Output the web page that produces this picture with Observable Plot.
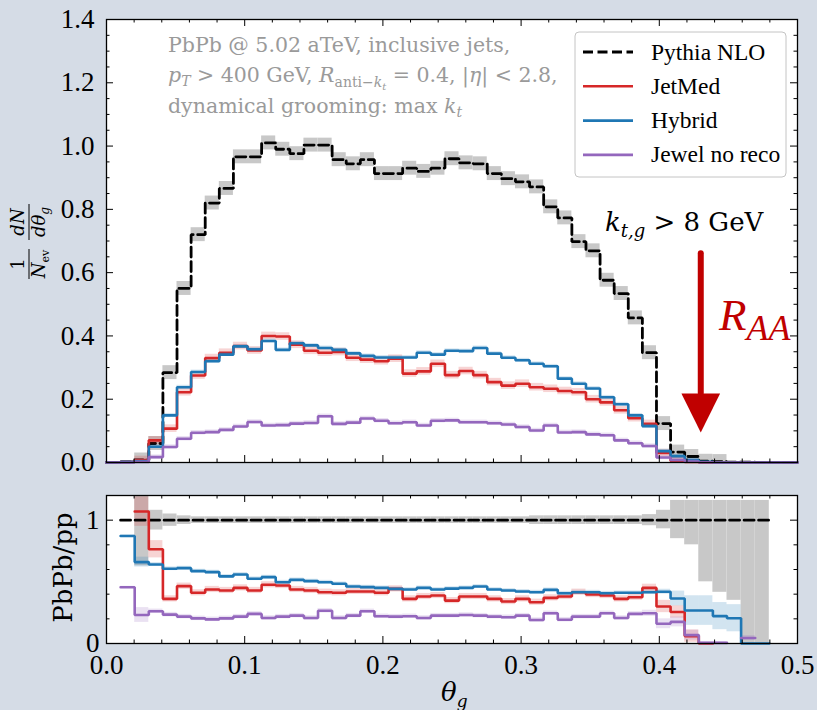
<!DOCTYPE html>
<html>
<head>
<meta charset="utf-8">
<script src="https://cdn.jsdelivr.net/npm/d3@7"></script>
<script src="https://cdn.jsdelivr.net/npm/@observablehq/plot@0.6"></script>
<style>
  html, body { margin: 0; padding: 0; background: #d5dce6; }
  #figure { position: relative; width: 817px; height: 710px; background: #d5dce6; overflow: hidden; }
  #figure > svg { position: absolute; left: 0; }
</style>
</head>
<body>
<div id="figure"></div>
<script>
// θ_g binning: 49 equal bins on [0, 0.5]
const nBins = 49;
const thetaMax = 0.5;
const edges = d3.range(nBins + 1).map(k => k * thetaMax / nBins);

// 1/N_ev dN/dθ_g per bin, k_t,g > 8 GeV
const pythia = [
  0, 0.002, 0.008, 0.06, 0.284, 0.55, 0.72, 0.82, 0.866, 0.966,
  0.966, 1.01, 0.99, 0.976, 1.003, 1.003, 0.957, 0.944, 0.957, 0.913,
  0.913, 0.93, 0.92, 0.93, 0.96, 0.947, 0.944, 0.913, 0.897, 0.887,
  0.871, 0.808, 0.773, 0.698, 0.669, 0.576, 0.534, 0.457, 0.347, 0.123,
  0.033, 0.019, 0.004, 0.003, 0.001, 0.001, 0, 0, 0
];
const jetmed = [
  0, 0.002, 0.008, 0.07, 0.107, 0.222, 0.275, 0.33, 0.347, 0.368,
  0.354, 0.40, 0.398, 0.372, 0.353, 0.347, 0.349, 0.331, 0.325, 0.32,
  0.328, 0.281, 0.288, 0.312, 0.276, 0.289, 0.276, 0.254, 0.243, 0.249,
  0.238, 0.233, 0.226, 0.222, 0.2, 0.19, 0.165, 0.14, 0.122, 0.03,
  0.005, 0.002, 0, 0, 0, 0, 0, 0, 0
];
const hybrid = [
  0, 0.002, 0.004, 0.05, 0.149, 0.238, 0.286, 0.32, 0.341, 0.367,
  0.358, 0.384, 0.356, 0.377, 0.37, 0.362, 0.356, 0.345, 0.337, 0.332,
  0.332, 0.332, 0.347, 0.341, 0.353, 0.352, 0.362, 0.344, 0.331, 0.323,
  0.312, 0.304, 0.265, 0.249, 0.234, 0.206, 0.184, 0.149, 0.115, 0.036,
  0.02, 0.008, 0.002, 0, 0, 0, 0, 0, 0
];
const jewel = [
  0, 0, 0.002, 0.017, 0.049, 0.075, 0.094, 0.096, 0.103, 0.114,
  0.128, 0.117, 0.118, 0.123, 0.125, 0.146, 0.122, 0.126, 0.139, 0.132,
  0.124, 0.127, 0.117, 0.132, 0.133, 0.127, 0.127, 0.124, 0.12, 0.112,
  0.101, 0.117, 0.095, 0.096, 0.089, 0.086, 0.07, 0.061, 0.052, 0.016,
  0.008, 0.003, 0.001, 0, 0, 0, 0, 0, 0
];
// statistical half-widths of the distributions
const pythiaErr = 0.022, jetmedErr = 0.012, hybridErr = 0.006, jewelErr = 0.007;

// PbPb/pp ratios per bin (null = no entry)
const pythiaRatio = [
  null, 1, 1, 1, 1, 1, 1, 1, 1, 1,
  1, 1, 1, 1, 1, 1, 1, 1, 1, 1,
  1, 1, 1, 1, 1, 1, 1, 1, 1, 1,
  1, 1, 1, 1, 1, 1, 1, 1, 1, 1,
  1, 1, 1, 1, 1, 1, 1, null, null
];
const pythiaRatioLo = [
  null, null, 0.63, 0.92, 0.95, 0.965, 0.973, 0.973, 0.973, 0.973,
  0.973, 0.973, 0.973, 0.973, 0.973, 0.973, 0.973, 0.973, 0.973, 0.973,
  0.973, 0.973, 0.973, 0.973, 0.973, 0.973, 0.973, 0.973, 0.973, 0.973,
  0.965, 0.965, 0.965, 0.965, 0.965, 0.965, 0.965, 0.965, 0.955, 0.93,
  0.85, 0.80, 0.50, 0.415, 0.35, 0, 0, null, null
];
const pythiaRatioHi = [
  null, null, 1.4, 1.08, 1.05, 1.035, 1.027, 1.027, 1.027, 1.027,
  1.027, 1.027, 1.027, 1.027, 1.027, 1.027, 1.027, 1.027, 1.027, 1.027,
  1.027, 1.027, 1.027, 1.027, 1.027, 1.027, 1.027, 1.027, 1.027, 1.027,
  1.035, 1.035, 1.035, 1.035, 1.035, 1.035, 1.035, 1.035, 1.045, 1.08,
  1.16, 1.16, 1.16, 1.16, 1.16, 1.16, 1.16, null, null
];
const jetmedRatio = [
  null, null, 1.07, 0.764, 0.362, 0.465, 0.411, 0.438, 0.43, 0.451,
  0.43, 0.476, 0.47, 0.438, 0.43, 0.416, 0.411, 0.422, 0.422, 0.411,
  0.443, 0.362, 0.381, 0.389, 0.348, 0.381, 0.381, 0.362, 0.34, 0.362,
  0.335, 0.37, 0.381, 0.416, 0.397, 0.389, 0.362, 0.375, 0.451, 0.30,
  0.256, 0.06, 0, null, null, null, null, null, null
];
const jetmedRatioErr = [
  null, null, 0.12, 0.07, 0.025, 0.025, 0.025, 0.025, 0.025, 0.025,
  0.025, 0.025, 0.025, 0.025, 0.025, 0.025, 0.025, 0.025, 0.025, 0.025,
  0.025, 0.025, 0.025, 0.025, 0.025, 0.025, 0.025, 0.025, 0.025, 0.025,
  0.025, 0.025, 0.025, 0.025, 0.025, 0.025, 0.025, 0.025, 0.03, 0.05,
  0.05, 0.05, 0, null, null, null, null, null, null
];
const hybridRatio = [
  null, 0.872, 0.66, 0.641, 0.606, 0.611, 0.587, 0.579, 0.544, 0.56,
  0.525, 0.538, 0.497, 0.516, 0.506, 0.497, 0.484, 0.462, 0.457, 0.451,
  0.443, 0.438, 0.451, 0.438, 0.445, 0.451, 0.462, 0.438, 0.43, 0.422,
  0.416, 0.435, 0.408, 0.416, 0.416, 0.408, 0.411, 0.411, 0.416, 0.42,
  0.365, 0.267, 0.267, 0.222, 0.205, 0, 0, null, null
];
const hybridRatioErr = [
  null, 0.008, 0.04, 0.015, 0.015, 0.015, 0.015, 0.015, 0.015, 0.015,
  0.015, 0.015, 0.015, 0.015, 0.015, 0.015, 0.015, 0.015, 0.015, 0.015,
  0.015, 0.015, 0.015, 0.015, 0.015, 0.015, 0.015, 0.015, 0.015, 0.015,
  0.015, 0.015, 0.015, 0.015, 0.015, 0.015, 0.015, 0.015, 0.018, 0.02,
  0.06, 0.12, 0.12, 0.11, 0.11, 0, 0, null, null
];
const jewelRatio = [
  null, 0.456, 0.231, 0.261, 0.234, 0.218, 0.204, 0.196, 0.204, 0.218,
  0.24, 0.207, 0.218, 0.226, 0.207, 0.266, 0.207, 0.226, 0.261, 0.221,
  0.218, 0.221, 0.207, 0.226, 0.226, 0.231, 0.226, 0.218, 0.213, 0.226,
  0.19, 0.245, 0.193, 0.218, 0.218, 0.245, 0.207, 0.24, 0.245, 0.16,
  0.175, 0.068, 0.005, 0.005, null, 0.045, null, null, null
];
const jewelRatioErr = [
  null, 0.008, 0.06, 0.018, 0.018, 0.018, 0.018, 0.018, 0.018, 0.018,
  0.018, 0.018, 0.018, 0.018, 0.018, 0.018, 0.018, 0.018, 0.018, 0.018,
  0.018, 0.018, 0.018, 0.018, 0.018, 0.018, 0.018, 0.018, 0.018, 0.018,
  0.018, 0.018, 0.018, 0.018, 0.018, 0.018, 0.018, 0.018, 0.025, 0.04,
  0.04, 0.04, 0.01, 0.01, null, 0.02, null, null, null
];

// axis ticks
const xMajor = [0, 0.1, 0.2, 0.3, 0.4, 0.5];
const xMinor = d3.range(1, 25).filter(i => i % 5 !== 0).map(i => i * 0.02);
const yMajorTop = [0, 0.2, 0.4, 0.6, 0.8, 1.0, 1.2, 1.4];
const yMinorTop = d3.range(1, 28).filter(i => i % 4 !== 0).map(i => i * 0.05);
const yMajorBottom = [0, 1];
const yMinorBottom = [0.2, 0.4, 0.6, 0.8];

const legendNames = ["Pythia NLO", "JetMed", "Hybrid", "Jewel no reco"];
const colors = ["#000000", "#d62728", "#1f77b4", "#9467bd"];
const raaRed = "#c00000";
const arrowSpec = {theta: 0.43, top: 0.66, headBase: 0.218, tip: 0.095, halfWidth: 0.014};

const SERIF = "'DejaVu Serif', 'Liberation Serif', serif";
const NUM = "'Liberation Serif', 'Times New Roman', serif";

// ---- helpers -------------------------------------------------------------
function stepPoints(values) {
  const pts = [];
  let run = 0, open = false;
  values.forEach((v, i) => {
    if (v == null) {
      if (open) { pts.push({x: edges[i], y: values[i - 1], run}); open = false; run++; }
      return;
    }
    pts.push({x: edges[i], y: v, run});
    open = true;
  });
  if (open) pts.push({x: edges[values.length], y: values[values.length - 1], run});
  return pts;
}
function bandRects(values, lo, hi) {
  return values.flatMap((v, i) => {
    const a = lo(i), b = hi(i);
    if (v == null || a == null || b == null) return [];
    return [{x1: edges[i], x2: edges[i + 1], y1: a, y2: b}];
  });
}
const stepLine = (values, stroke, extra = {}) =>
  Plot.line(stepPoints(values), {x: "x", y: "y", z: "run", curve: "step-after", stroke, strokeWidth: 2.6, strokeLinejoin: "miter", ...extra});
const bandMark = (rects, fill, fillOpacity) =>
  Plot.rect(rects, {x1: "x1", x2: "x2", y1: "y1", y2: "y2", fill, fillOpacity, clip: true});
const errAt = (err, i) => Array.isArray(err) ? err[i] : err;
const symBand = (values, err) => bandRects(values,
  i => (values[i] == null || errAt(err, i) == null) ? null : values[i] - errAt(err, i),
  i => (values[i] == null || errAt(err, i) == null) ? null : values[i] + errAt(err, i));
const positiveBand = (values, err) => bandRects(values,
  i => values[i] > 0.002 ? values[i] - err : null,
  i => values[i] > 0.002 ? values[i] + err : null);

function tickRules(W, H, yMaj, yMin) {
  const M = 7, m = 3.5, s = {stroke: "black", strokeWidth: 1};
  return [
    Plot.ruleY(yMaj, {...s, insetRight: W - M}), Plot.ruleY(yMaj, {...s, insetLeft: W - M}),
    Plot.ruleY(yMin, {...s, insetRight: W - m}), Plot.ruleY(yMin, {...s, insetLeft: W - m}),
    Plot.ruleX(xMajor, {...s, insetTop: H - M}), Plot.ruleX(xMajor, {...s, insetBottom: H - M}),
    Plot.ruleX(xMinor, {...s, insetTop: H - m}), Plot.ruleX(xMinor, {...s, insetBottom: H - m})
  ];
}

function richText(parent, x, y, parts, opts) {
  const t = parent.append("text").attr("x", x).attr("y", y)
    .style("font-family", opts.family).style("font-size", opts.size + "px")
    .attr("fill", opts.fill || "black").attr("text-anchor", opts.anchor || "start");
  let shift = 0;
  for (const p of parts) {
    const [str, o] = Array.isArray(p) ? p : [p, {}];
    const target = o.shift || 0;
    const ts = t.append("tspan").text(str).attr("dy", target - shift);
    if (o.italic) ts.style("font-style", "italic");
    if (o.size) ts.style("font-size", o.size + "px");
    shift = target;
  }
  return t;
}

const baseStyle = `background: transparent; overflow: visible; font-family: ${NUM}; font-size: 27px; color: black;`;
const axisFont = {fontFamily: NUM, fontSize: 27};
const fig = document.getElementById("figure");

// ---- distribution panel --------------------------------------------------
const topW = 817 - 106 - 20, topH = 480 - 19 - 18;
const a = arrowSpec;
const topPlot = Plot.plot({
  width: 817, height: 480,
  marginLeft: 106, marginRight: 20, marginTop: 19, marginBottom: 18,
  x: {domain: [0, thetaMax], axis: null},
  y: {domain: [0, 1.4]},
  style: baseStyle,
  marks: [
    Plot.frame({fill: "white", stroke: "none"}),
    bandMark(positiveBand(pythia, pythiaErr), "#c8c8c8", 1),
    stepLine(pythia, colors[0], {strokeDasharray: "10,4.5", strokeWidth: 2.8}),
    bandMark(positiveBand(jetmed, jetmedErr), colors[1], 0.2),
    stepLine(jetmed, colors[1]),
    bandMark(positiveBand(hybrid, hybridErr), colors[2], 0.2),
    stepLine(hybrid, colors[2]),
    bandMark(positiveBand(jewel, jewelErr), colors[3], 0.2),
    stepLine(jewel, colors[3]),
    Plot.ruleX([a], {x: "theta", y1: "top", y2: "headBase", stroke: raaRed, strokeWidth: 6, strokeLinecap: "round"}),
    Plot.line([[a.theta - a.halfWidth, a.headBase], [a.theta + a.halfWidth, a.headBase], [a.theta, a.tip], [a.theta - a.halfWidth, a.headBase]],
      {fill: raaRed, stroke: "none"}),
    Plot.axisY({ticks: yMajorTop, tickSize: 0, tickPadding: 12, tickFormat: d => d.toFixed(1), label: null, ...axisFont}),
    ...tickRules(topW, topH, yMajorTop, yMinorTop),
    Plot.frame({stroke: "black", strokeWidth: 1.3})
  ]
});
topPlot.style.top = "0px";
fig.appendChild(topPlot);

const ts = d3.select(topPlot);
// y label: 1/N_ev dN/dθ_g
const yl = ts.append("g").attr("transform", "translate(29,242) rotate(-90)");
richText(yl, -22, -5, ["1"], {family: SERIF, size: 18, anchor: "middle"});
yl.append("line").attr("x1", -37).attr("x2", -7).attr("y1", 0).attr("y2", 0).attr("stroke", "black").attr("stroke-width", 1);
richText(yl, -22, 16, [["N", {italic: true}], ["ev", {size: 11, shift: 4}]], {family: SERIF, size: 18, anchor: "middle"});
richText(yl, 20, -5, [["dN", {italic: true}]], {family: SERIF, size: 18, anchor: "middle"});
yl.append("line").attr("x1", 2).attr("x2", 38).attr("y1", 0).attr("y2", 0).attr("stroke", "black").attr("stroke-width", 1);
richText(yl, 20, 16, [["dθ", {italic: true}], ["g", {italic: true, size: 12, shift: 4}]], {family: SERIF, size: 18, anchor: "middle"});

// selection description
const grey = "#9a9a9a";
const df = {family: SERIF, size: 20.5, fill: grey};
richText(ts, 168, 52, ["PbPb @ 5.02 aTeV, inclusive jets,"], df);
richText(ts, 168, 82, [
  ["p", {italic: true}], ["T", {italic: true, size: 14, shift: 4}], [" > 400 GeV, ", {}],
  ["R", {italic: true}], ["anti−", {size: 14, shift: 5}], ["k", {italic: true, size: 14, shift: 5}],
  ["t", {italic: true, size: 10, shift: 8}], [" = 0.4, |", {}], ["η", {italic: true}], ["| < 2.8,", {}]
], df);
richText(ts, 168, 112.5, ["dynamical grooming: max ", ["k", {italic: true}], ["t", {italic: true, size: 14, shift: 4}]], df);

// grooming cut and R_AA annotation
richText(ts, 605, 231, [["k", {italic: true}], ["t,g", {italic: true, size: 18, shift: 6}], [" > 8 GeV", {}]],
  {family: SERIF, size: 26});
richText(ts, 719, 330, [["R", {italic: true}], ["AA", {italic: true, size: 36, shift: 10}]],
  {family: NUM, size: 45, fill: raaRed});

// legend
const lg = ts.append("g");
lg.append("rect").attr("x", 575).attr("y", 32).attr("width", 211).attr("height", 145).attr("rx", 4)
  .attr("fill", "white").attr("fill-opacity", 0.85).attr("stroke", "#c4c4c4").attr("stroke-width", 1);
legendNames.forEach((name, i) => {
  const cy = 52 + i * 34.3;
  lg.append("line").attr("x1", 583).attr("x2", 633).attr("y1", cy).attr("y2", cy)
    .attr("stroke", colors[i]).attr("stroke-width", i === 0 ? 2.8 : 2.6)
    .attr("stroke-dasharray", i === 0 ? "10,4.5" : null);
  richText(lg, 651, cy + 7.5, [name], {family: NUM, size: 23.5});
});

// ---- ratio panel ---------------------------------------------------------
const botW = 817 - 106 - 20, botH = 230 - 15 - 67;
const botPlot = Plot.plot({
  width: 817, height: 230,
  marginLeft: 106, marginRight: 20, marginTop: 15, marginBottom: 67,
  x: {domain: [0, thetaMax]},
  y: {domain: [0, 1.2]},
  style: baseStyle,
  marks: [
    Plot.frame({fill: "white", stroke: "none"}),
    bandMark(bandRects(pythiaRatio, i => pythiaRatioLo[i], i => pythiaRatioHi[i]), "#c8c8c8", 1),
    bandMark(symBand(jetmedRatio, jetmedRatioErr), colors[1], 0.2),
    bandMark(symBand(hybridRatio, hybridRatioErr), colors[2], 0.2),
    bandMark(symBand(jewelRatio, jewelRatioErr), colors[3], 0.2),
    stepLine(pythiaRatio, colors[0], {strokeDasharray: "10,4.5", strokeWidth: 2.8}),
    stepLine(jetmedRatio, colors[1]),
    stepLine(hybridRatio, colors[2]),
    stepLine(jewelRatio, colors[3]),
    Plot.axisY({ticks: yMajorBottom, tickSize: 0, tickPadding: 7, tickFormat: d => String(d), label: null, ...axisFont}),
    Plot.axisX({ticks: xMajor, tickSize: 0, tickPadding: 11, tickFormat: d => d.toFixed(1), label: null, ...axisFont}),
    ...tickRules(botW, botH, yMajorBottom, yMinorBottom),
    Plot.frame({stroke: "black", strokeWidth: 1.3})
  ]
});
botPlot.style.top = "480px";
fig.appendChild(botPlot);

const bs = d3.select(botPlot);
const yl2 = bs.append("g").attr("transform", "translate(72,87.5) rotate(-90)");
richText(yl2, 0, 0, ["PbPb/pp"], {family: SERIF, size: 26, anchor: "middle"});
richText(bs, 441, 221, [["θ", {italic: true}], ["g", {italic: true, size: 17, shift: 6}]],
  {family: SERIF, size: 26});
</script>
</body>
</html>
